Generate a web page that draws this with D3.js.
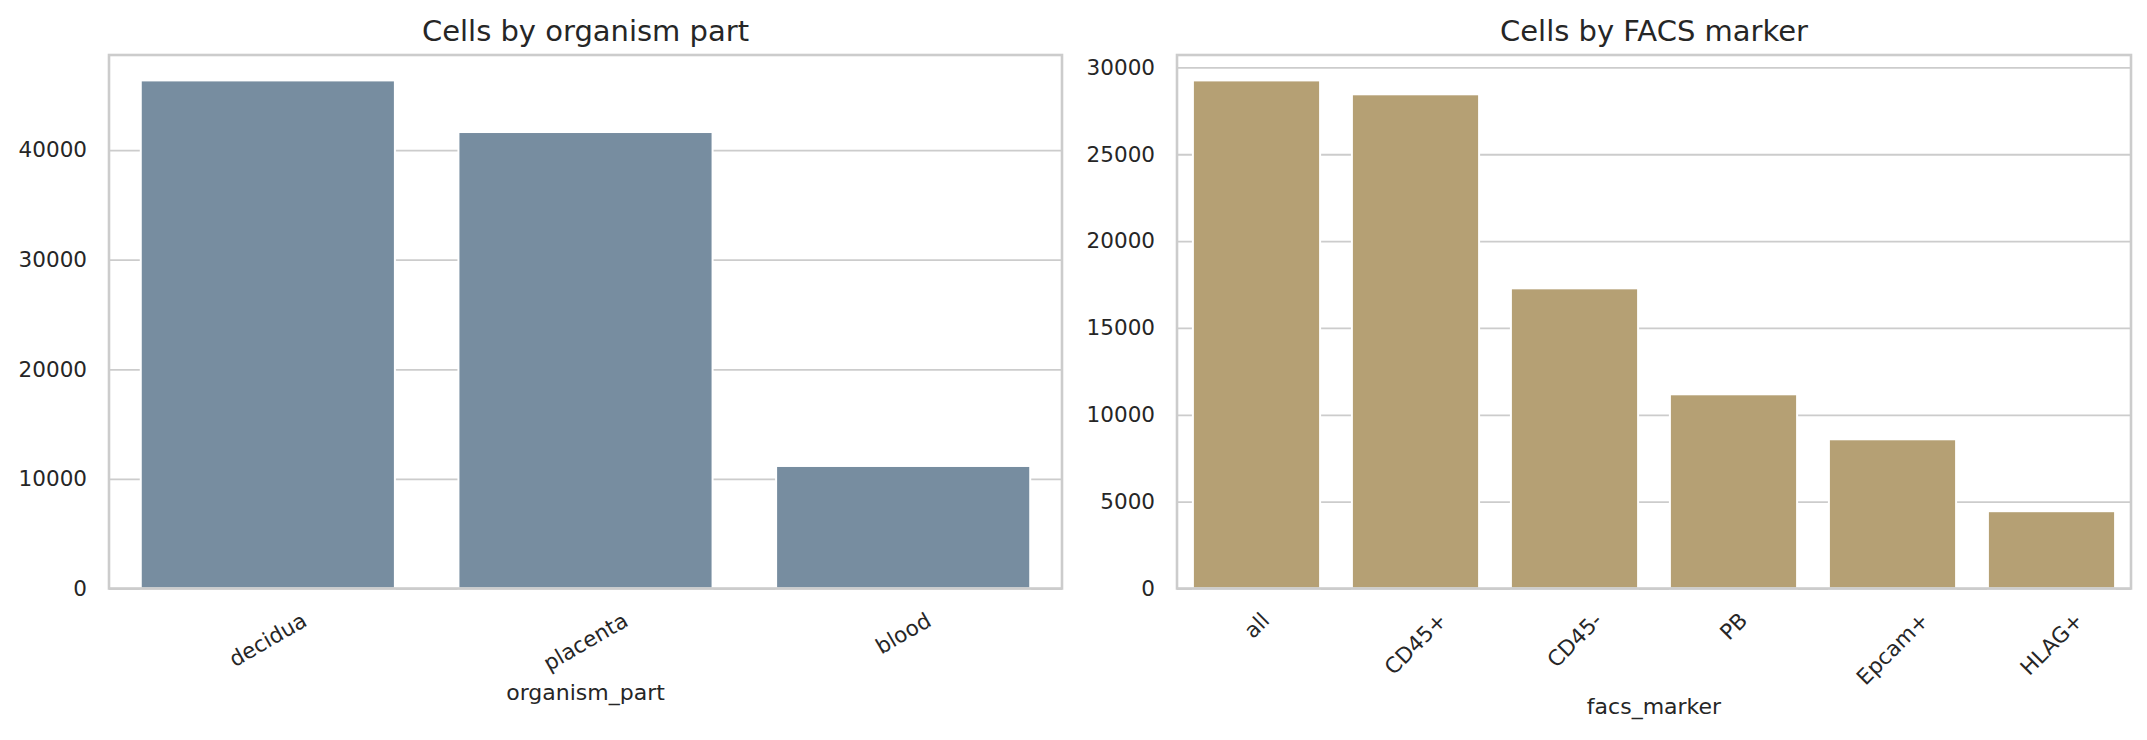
<!DOCTYPE html>
<html>
<head>
<meta charset="utf-8">
<script src="https://cdn.jsdelivr.net/npm/d3@7"></script>
<style>
  html, body { margin: 0; padding: 0; background: #ffffff; }
  svg { display: block; font-family: "DejaVu Sans", sans-serif; }
</style>
</head>
<body>
<svg id="chart" width="2147" height="740"></svg>
<script>
// ---- data ----
const organismParts = ["decidua", "placenta", "blood"];
const organismCounts = [46360, 41650, 11180];
const organismTicks = [0, 10000, 20000, 30000, 40000];

const facsMarkers = ["all", "CD45+", "CD45-", "PB", "Epcam+", "HLAG+"];
const facsCounts = [29250, 28450, 17280, 11180, 8590, 4450];
const facsTicks = [0, 5000, 10000, 15000, 20000, 25000, 30000];

const panels = [
  { title: "Cells by organism part", xlabel: "organism_part", cats: organismParts, vals: organismCounts, ticks: organismTicks, color: "#778da0", rot: 30 },
  { title: "Cells by FACS marker", xlabel: "facs_marker", cats: facsMarkers, vals: facsCounts, ticks: facsTicks, color: "#b5a074", rot: 45 }
];

// ---- layout ----
const svg = d3.select("#chart");
svg.append("rect").attr("width", 2147).attr("height", 740).attr("fill", "#ffffff");
const boxes = [
  { x0: 109, x1: 1062 },
  { x0: 1177, x1: 2131 }
];
const yTop = 55, yBot = 588.5;
const gridColor = "#cccccc";
const textColor = "#262626";
const tickFont = 21.5;

panels.forEach((p, i) => {
  const b = boxes[i];
  const g = svg.append("g");
  const x = d3.scaleBand().domain(p.cats).range([b.x0, b.x1]).paddingInner(0.2).paddingOuter(0.1);
  const y = d3.scaleLinear().domain([0, d3.max(p.vals) * 1.05]).range([yBot, yTop]);

  // gridlines (horizontal only)
  const yGrid = d3.axisLeft(y).tickValues(p.ticks).tickSize(-(b.x1 - b.x0)).tickFormat("");
  const gg = g.append("g").attr("transform", `translate(${b.x0},0)`).call(yGrid);
  gg.select(".domain").remove();
  gg.selectAll("line").attr("stroke", gridColor).attr("stroke-width", 1.8);

  // bars
  g.append("g").selectAll("rect").data(p.cats).join("rect")
    .attr("x", d => x(d))
    .attr("width", x.bandwidth())
    .attr("y", (d, j) => y(p.vals[j]))
    .attr("height", (d, j) => yBot - y(p.vals[j]))
    .attr("fill", p.color)
    .attr("stroke", "#ffffff")
    .attr("stroke-width", 2);

  // y tick labels
  const yAx = d3.axisLeft(y).tickValues(p.ticks).tickSize(0).tickPadding(22).tickFormat(d3.format("d"));
  const ya = g.append("g").attr("transform", `translate(${b.x0},0)`).call(yAx);
  ya.select(".domain").remove();
  ya.selectAll("text").attr("fill", textColor).attr("font-size", tickFont).attr("font-family", "DejaVu Sans");

  // spines
  g.append("rect").attr("x", b.x0).attr("y", yTop).attr("width", b.x1 - b.x0).attr("height", yBot - yTop)
    .attr("fill", "none").attr("stroke", gridColor).attr("stroke-width", 2.6);

  // x tick labels (rotated, centered under bars)
  const xAx = d3.axisBottom(x).tickSize(0).tickPadding(0);
  const xa = g.append("g").attr("transform", `translate(0,${yBot})`).call(xAx);
  xa.select(".domain").remove();
  const th = p.rot * Math.PI / 180;
  const lineH = tickFont * 1.17;
  let maxBottom = 0;
  xa.selectAll(".tick text")
    .attr("fill", textColor).attr("font-size", tickFont).attr("font-family", "DejaVu Sans")
    .attr("text-anchor", "middle").attr("dy", null).attr("y", null)
    .attr("dominant-baseline", "central")
    .each(function() {
      const w = this.getComputedTextLength();
      const hb = w * Math.sin(th) + lineH * Math.cos(th);
      const cy = 19 + hb / 2;
      maxBottom = Math.max(maxBottom, 19 + hb);
      d3.select(this).attr("transform", `translate(0,${cy}) rotate(${-p.rot})`);
    });

  // x axis label
  g.append("text")
    .attr("x", (b.x0 + b.x1) / 2)
    .attr("y", yBot + maxBottom + 24)
    .attr("text-anchor", "middle")
    .attr("fill", textColor).attr("font-size", 22)
    .text(p.xlabel);

  // title
  g.append("text")
    .attr("x", (b.x0 + b.x1) / 2)
    .attr("y", 40.7)
    .attr("text-anchor", "middle")
    .attr("fill", textColor).attr("font-size", 29)
    .text(p.title);
});
</script>
</body>
</html>
